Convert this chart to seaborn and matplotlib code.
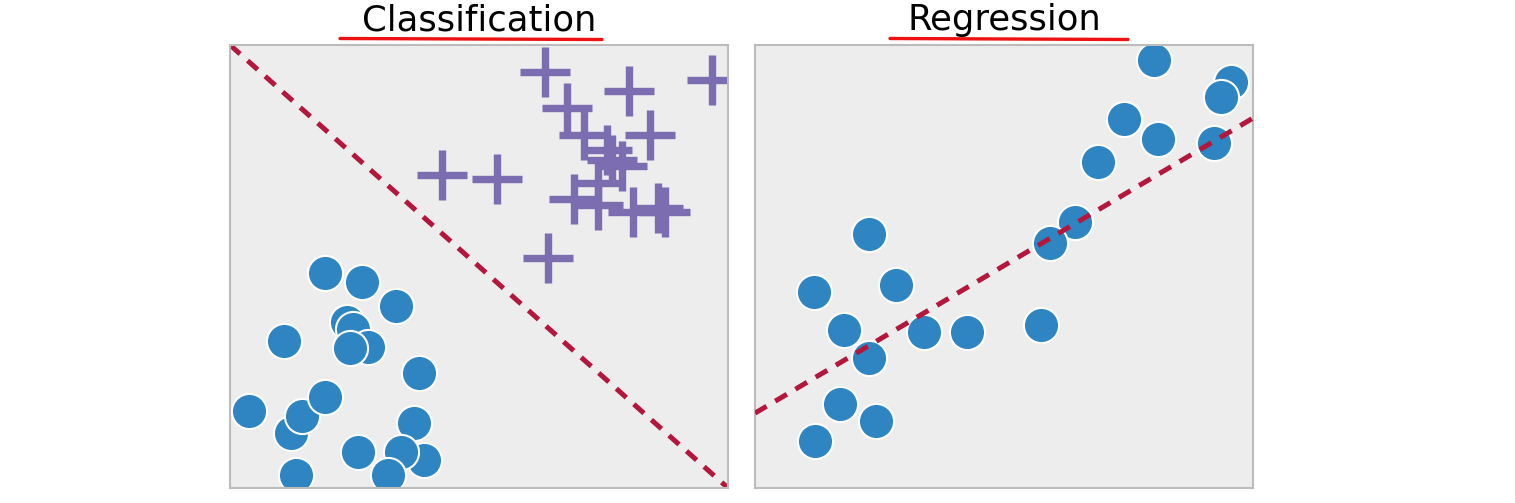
import numpy as np
import pandas as pd
import matplotlib
matplotlib.use("Agg")
import matplotlib.pyplot as plt
import seaborn as sns
from matplotlib.lines import Line2D

# -----------------------------
# Datos (ejes de 0 a 10)
# -----------------------------
# Clasificación: clase "círculo"
circ_x = [1.91, 2.65, 3.33, 1.08, 2.35, 2.47, 2.77, 2.41, 3.80, 0.38,
          1.22, 1.45, 1.91, 3.69, 2.57, 3.90, 3.43, 1.33, 3.17]
circ_y = [4.85, 4.65, 4.11, 3.32, 3.75, 3.59, 3.18, 3.16, 2.60, 1.74,
          1.24, 1.63, 2.05, 1.47, 0.81, 0.63, 0.81, 0.29, 0.29]

# Clasificación: clase "cruz"
cross_x = [6.33, 8.01, 9.68, 6.77, 7.11, 7.57, 8.43, 7.67, 7.87, 7.39,
           6.91, 7.39, 8.09, 8.59, 8.73, 4.26, 5.36, 6.39]
cross_y = [9.39, 8.96, 9.21, 8.58, 7.97, 7.63, 7.97, 7.40, 7.27, 6.88,
           6.52, 6.39, 6.23, 6.32, 6.23, 7.07, 6.98, 5.19]

# Frontera de decisión
bound_x = [0, 10]
bound_y = [10, 0]

# Regresión
reg_x = [8.01, 9.56, 9.36, 7.41, 8.09, 9.22, 6.89, 6.43, 5.92, 2.29,
         1.18, 2.83, 1.79, 3.39, 4.26, 5.74, 2.29, 1.71, 2.43, 1.20]
reg_y = [9.66, 9.16, 8.83, 8.33, 7.88, 7.79, 7.36, 6.00, 5.53, 5.73,
         4.42, 4.58, 3.57, 3.52, 3.52, 3.68, 2.93, 1.90, 1.51, 1.06]

# Recta de regresión
fit_x = [0, 10]
fit_y = [1.69, 8.35]

titulos = ["Classification", "Regression"]

# -----------------------------
# Estilo
# -----------------------------
sns.set_style("white")
plt.rcParams['font.family'] = ['DejaVu Sans']

blue = "#2e85c1"
purple = "#7b6db0"
red_dash = "#b3173b"
panel_bg = "#ededed"
dash = (0, (2.7, 2.0))

fig = plt.figure(figsize=(15.15, 5.03), dpi=100)
ax1 = fig.add_axes([230 / 1515, 15 / 503, 498 / 1515, 443 / 503])
ax2 = fig.add_axes([755 / 1515, 15 / 503, 498 / 1515, 443 / 503])

df_circ = pd.DataFrame({"x": circ_x, "y": circ_y})
df_cross = pd.DataFrame({"x": cross_x, "y": cross_y})
df_reg = pd.DataFrame({"x": reg_x, "y": reg_y})

# Panel izquierdo: clasificación
sns.lineplot(x=bound_x, y=bound_y, ax=ax1, color=red_dash, lw=3.6,
             linestyle=dash, zorder=1)
sns.scatterplot(data=df_circ, x="x", y="y", ax=ax1, color=blue, s=640,
                edgecolor="white", linewidth=1.5, zorder=2)
sns.scatterplot(data=df_cross, x="x", y="y", ax=ax1, color=purple,
                marker="+", s=1300, linewidth=5.3, zorder=2)

# Panel derecho: regresión
sns.scatterplot(data=df_reg, x="x", y="y", ax=ax2, color=blue, s=640,
                edgecolor="white", linewidth=1.5, zorder=2)
sns.lineplot(x=fit_x, y=fit_y, ax=ax2, color=red_dash, lw=3.6,
             linestyle=dash, zorder=3)

for ax, titulo in zip([ax1, ax2], titulos):
    ax.set_xlim(0, 10)
    ax.set_ylim(0, 10)
    ax.set_facecolor(panel_bg)
    ax.set_xticks([])
    ax.set_yticks([])
    ax.set_xlabel("")
    ax.set_ylabel("")
    for sp in ax.spines.values():
        sp.set_visible(True)
        sp.set_color("#bcbcbc")
        sp.set_linewidth(1.5)
    ax.set_title(titulo, fontsize=25.5, color="black", pad=10.5)

# Subrayados rojos bajo los títulos
for x0, x1 in [(340, 602), (890, 1128)]:
    fig.add_artist(Line2D([x0 / 1515, x1 / 1515], [1 - 38.5 / 503, 1 - 39.5 / 503],
                          transform=fig.transFigure, color="#ee1111", lw=2.4,
                          solid_capstyle="round"))

fig.savefig("out.png", dpi=100, facecolor="white")
